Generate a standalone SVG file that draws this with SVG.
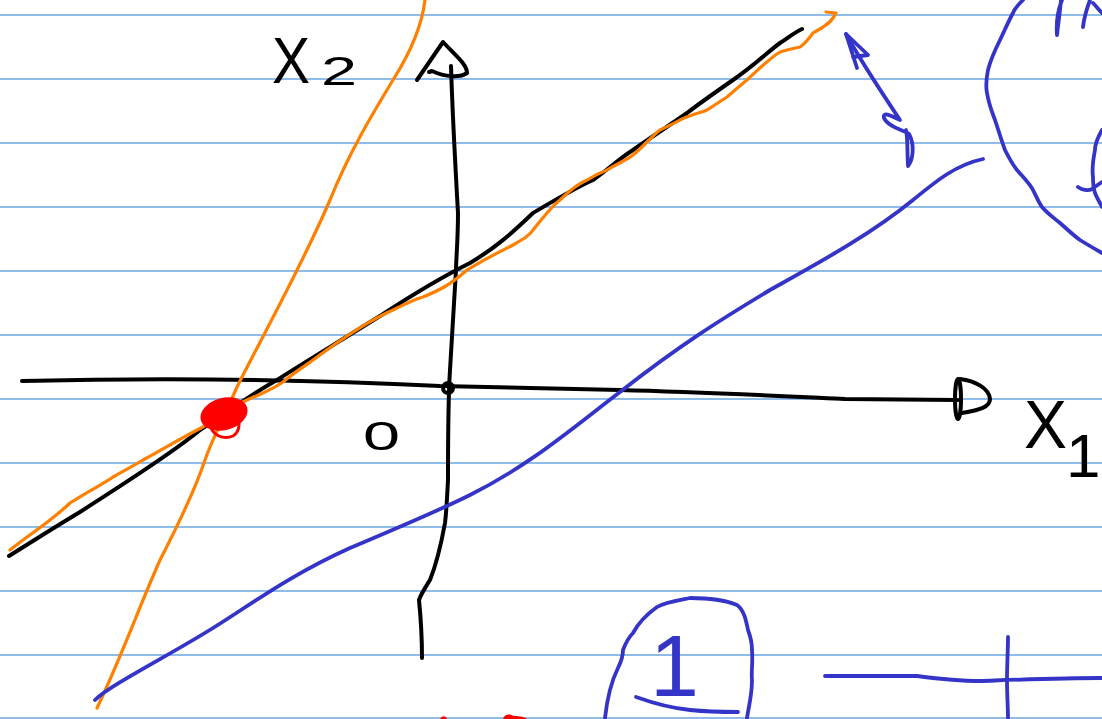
<svg xmlns="http://www.w3.org/2000/svg" width="1102" height="719" viewBox="0 0 1102 719">
<style>
.rule{stroke:#6aa6e2;stroke-width:1.3}
.ink{fill:none;stroke-linecap:round;stroke-linejoin:round}
.k{stroke:#000;stroke-width:4}
.o{stroke:#ff8000;stroke-width:3.2}
.b{stroke:#3434c8;stroke-width:3.8}
.r{stroke:#ff0000;stroke-width:3}
.t{font-family:"Liberation Sans","DejaVu Sans",sans-serif;font-weight:300}
</style>
<rect width="1102" height="719" fill="#fff"/>
<g id="ruling">
<line class="rule" x1="0" y1="15" x2="1102" y2="15"/>
<line class="rule" x1="0" y1="79" x2="1102" y2="79"/>
<line class="rule" x1="0" y1="143" x2="1102" y2="143"/>
<line class="rule" x1="0" y1="207" x2="1102" y2="207"/>
<line class="rule" x1="0" y1="271" x2="1102" y2="271"/>
<line class="rule" x1="0" y1="335" x2="1102" y2="335"/>
<line class="rule" x1="0" y1="399" x2="1102" y2="399"/>
<line class="rule" x1="0" y1="463" x2="1102" y2="463"/>
<line class="rule" x1="0" y1="527" x2="1102" y2="527"/>
<line class="rule" x1="0" y1="591" x2="1102" y2="591"/>
<line class="rule" x1="0" y1="655" x2="1102" y2="655"/>
<line class="rule" x1="0" y1="718" x2="1102" y2="718"/>
</g>
<g id="x1-axis">
<path class="ink k" d="M22,381 C150,378 300,379 440,386 L620,390 C700,392 780,396 845,399 L958,400"/>
<ellipse class="ink k" cx="958" cy="399" rx="3" ry="20"/>
<path class="ink k" d="M960,379 C975,381 989,388 990,399 C990,407 980,410 962,413"/>
<circle class="ink k" cx="448" cy="388" r="5"/>
</g>
<g id="x2-axis">
<path class="ink k" d="M451,66 C452,100 455,160 458,213 C458,240 456,260 456,270 C454,300 452,340 450,370 C448,400 448,440 448,480 C447,500 446,515 445,523 C441,545 436,565 430,580 C425,588 421,594 419,600 C421,620 422,640 422,658"/>
<path class="ink k" d="M417,80 L443,42 C455,55 467,64 467,73 C460,78 445,77 432,71 L429,72"/>
</g>
<g id="orange-steep">
<path class="ink o" d="M425,0 C422,25 412,50 393,80 C375,110 350,150 330,200 C300,270 255,350 237,387 C225,415 213,437 205,460 C195,490 177,527 160,560 C140,605 120,660 97,708"/>
</g>
<g id="black-diagonal">
<path class="ink k" d="M9,556 C30,543 50,530 80,512 C120,486 170,455 200,430 C230,410 255,392 277,380 C305,362 345,338 380,316 C400,303 430,283 470,263 C495,248 510,235 533,213 C555,200 575,188 593,180 C610,168 620,158 633,150 C650,138 670,125 687,113 C700,103 710,96 733,80 C755,65 770,50 780,43 C788,38 795,32 802,29"/>
</g>
<g id="orange-diagonal">
<path class="ink o" d="M10,550 C25,538 40,528 50,520 C60,512 65,508 70,503 C90,490 105,483 113,477 C125,470 135,465 143,460 C165,448 185,436 203,427 C215,418 235,405 247,400 C260,394 270,391 283,382 C295,372 305,366 313,360 C340,340 370,320 393,310 C405,304 415,299 423,297 C440,290 450,285 467,270 C480,262 495,254 513,245 C525,238 530,235 533,230 C545,215 552,206 560,200 C570,190 578,184 587,180 C595,175 602,172 607,170 C620,162 627,160 633,155 C645,145 652,136 660,130 C668,126 675,123 680,120 C690,115 700,113 707,110 C715,105 722,100 727,97 C735,90 742,84 747,80 C760,68 770,58 780,52 C790,49 795,48 800,47 C806,43 810,37 813,33 C818,30 822,28 823,27 C828,24 831,21 833,18 L836,13 L826,12"/>
</g>
<g id="intersection">
<ellipse cx="224" cy="414" rx="24" ry="16" transform="rotate(-15 224 414)" fill="#ff0000"/>
<path class="ink r" d="M210,424 C212,436 224,440 233,436 C241,431 240,420 236,414"/>
</g>
<g id="blue-line">
<path class="ink b" d="M95,700 C110,685 170,655 213,628 C250,605 290,575 350,548 C400,527 440,510 470,495 C530,465 570,430 620,392 C680,345 720,320 770,290 C820,262 870,235 913,200 C935,182 955,165 983,159"/>
</g>
<g id="blue-arrow">
<path class="ink b" d="M846,34 C860,60 880,90 900,120 C895,118 882,110 884,118 C888,127 903,130 909,134 C915,145 913,160 908,166 C907,150 908,140 906,130"/>
<path class="ink b" d="M857,68 L846,34 L868,55 L853,57"/>
</g>
<g id="blue-top-right">
<path class="ink b" d="M1023,0 C1018,5 1014,10 1013,13 C1008,22 1004,32 1000,40 C994,52 990,62 988,70 C986,80 986,88 987,93 C989,105 992,112 995,120 C999,132 1002,142 1005,150 C1009,158 1013,165 1017,170 C1024,178 1030,184 1033,190 C1037,198 1039,203 1042,207 C1048,214 1054,218 1060,223 C1067,229 1073,235 1080,240 C1088,245 1095,249 1102,253"/>
<path class="ink b" d="M1057,35 C1056,22 1058,10 1062,0 M1061,0 C1060,12 1058,25 1057,35"/>
<path class="ink b" d="M1083,27 C1084,18 1087,8 1090,0 M1093,3 C1096,6 1099,10 1102,13"/>
<path class="ink b" d="M1102,130 C1098,137 1095,143 1095,150 C1093,160 1092,170 1093,177 C1093,185 1094,190 1095,193 C1097,198 1100,203 1102,207"/>
<path class="ink b" d="M1078,187 C1082,190 1088,191 1092,189 C1096,186 1099,184 1102,182"/>
</g>
<g id="blue-box">
<path class="ink b" d="M605,718 C607,700 612,680 618,668 C622,660 623,655 623,650 C626,642 629,637 633,633 C640,620 650,612 657,607 C665,602 680,600 690,598 C710,598 725,600 737,605 C744,610 746,620 748,630 C751,638 752,642 752,650 C753,665 751,672 752,680 C752,695 749,705 747,718"/>
<path class="ink b" d="M636,697 C650,702 670,708 690,710 C710,712 725,712 738,712"/>
<text class="t" x="650" y="696" font-size="88" fill="#3434c8">1</text>
</g>
<g id="blue-cross">
<path class="ink b" d="M825,676 L917,676 C940,679 960,681 980,681 C1010,680 1060,678 1102,678"/>
<path class="ink b" d="M1008,637 C1008,650 1007,665 1007,680 C1007,695 1008,708 1008,718"/>
</g>
<g id="red-marks">
<path d="M440,719 C442,716 445,715 447,719 Z" fill="#ff0000"/>
<path d="M503,719 C505,713 510,714 514,716 C520,716 525,717 527,719 Z" fill="#ff0000"/>
</g>
<g id="labels">
<text class="t" x="272" y="83" font-size="64" textLength="38" lengthAdjust="spacingAndGlyphs">X</text>
<text class="t" x="321" y="85" font-size="40" textLength="36" lengthAdjust="spacingAndGlyphs">2</text>
<text class="t" x="363" y="450" font-size="40" textLength="37" lengthAdjust="spacingAndGlyphs">0</text>
<text class="t" x="1024" y="448" font-size="68" textLength="43" lengthAdjust="spacingAndGlyphs">X</text>
<text class="t" x="1066" y="477" font-size="62">1</text>
</g>
</svg>
